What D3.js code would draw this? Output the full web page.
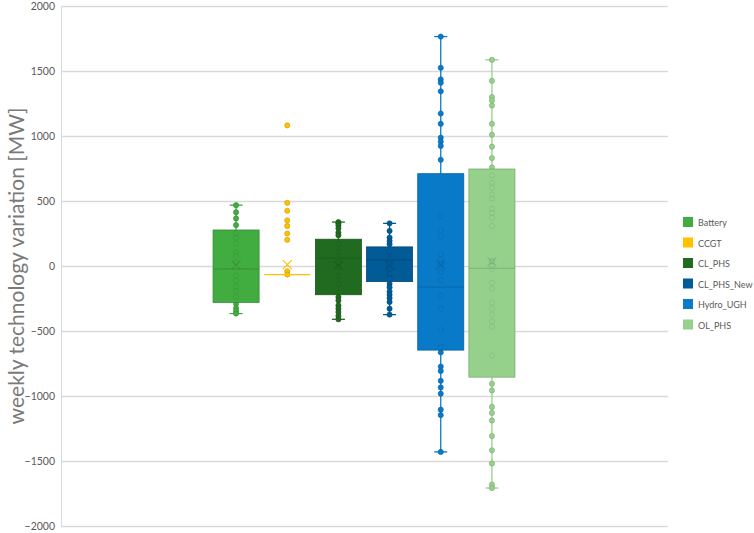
<!DOCTYPE html>
<html>
<head>
<meta charset="utf-8">
<script src="https://cdn.jsdelivr.net/npm/d3@7"></script>
<style>
    body { margin: 0; background: #fff; }
    text { font-family: Lato, "Open Sans", sans-serif; }
</style>
</head>
<body>
<div id="chart"></div>
<script>
// series (one box each)
var series = ["Battery", "CCGT", "CL_PHS", "CL_PHS_New", "Hydro_UGH", "OL_PHS"];
var colors = ["#41ad41", "#ffc000", "#216b21", "#005b97", "#087ac8", "#96d18c"];

// box statistics
var whiskerLow  = [-366, -66, -410, -374, -1430, -1708];
var q1          = [-280, -66, -221, -120, -647, -855];
var median      = [-23, -66, 61, 48, -163, -18];
var q3          = [277, -66, 206, 147, 710, 746];
var whiskerHigh = [468, -66, 338, 328, 1765, 1586];
var means       = [8, 10, 2, 8, 8, 33];

// weekly points per technology
var ptsBattery = [468, 414, 366, 315, 250, 219, 173, 105, 79, 28, -74, -112, -158, -193, -239, -290, -323, -346, -366];
var ptsCCGT = [1082, 486, 425, 351, 308, 250, 201, -41, -66];
var ptsCLPHS = [338, 328, 313, 290, 257, 237, 168, 105, 28, -10, -74, -137, -239, -265, -303, -328, -354, -384, -410];
var ptsCLPHSNew = [328, 270, 219, 193, 168, 105, 53, 15, -23, -61, -94, -137, -163, -196, -221, -247, -277, -328, -374];
var ptsHydro = [1765, 1525, 1435, 1410, 1344, 1173, 1094, 987, 957, 924, 817, 384, 277, 227, 92, 53, 15,
    -48, -112, -227, -328, -494, -621, -664, -774, -807, -883, -934, -982, -1105, -1147, -1430];
var ptsOLPHS = [1586, 1425, 1300, 1275, 1234, 1094, 1010, 918, 830, 758, 697, 639, 601, 550, 519, 440, 410, 372, 308,
    40, 2, 33, -23, -130, -176, -282, -328, -374, -425, -468, -689, -906, -957, -1084, -1130, -1188, -1308, -1418, -1519, -1682, -1708];
var points = [ptsBattery, ptsCCGT, ptsCLPHS, ptsCLPHSNew, ptsHydro, ptsOLPHS];

var yTicks = [-2000, -1500, -1000, -500, 0, 500, 1000, 1500, 2000];

var width = 754, height = 533;
var margin = { top: 6, right: 86, bottom: 6, left: 61 };

var svg = d3.select("#chart")
    .append("svg")
    .attr("width", width)
    .attr("height", height);

var y = d3.scaleLinear()
    .domain([-2000, 2000])
    .range([height - margin.bottom - 1, margin.top]);

var plotRight = width - margin.right;
var mid = (margin.left + plotRight) / 2;

var x = d3.scaleBand()
    .domain(series)
    .range([mid - 154, mid + 153])
    .paddingInner(0.1)
    .paddingOuter(0.05);

// gridlines
svg.append("g")
    .selectAll("line")
    .data(yTicks)
    .enter()
    .append("line")
    .attr("x1", margin.left)
    .attr("x2", plotRight)
    .attr("y1", function (d) { return Math.round(y(d)) + 0.5; })
    .attr("y2", function (d) { return Math.round(y(d)) + 0.5; })
    .attr("stroke", "#d9d9d9")
    .attr("stroke-width", 1.3);

// left axis line
svg.append("line")
    .attr("x1", margin.left + 0.5)
    .attr("x2", margin.left + 0.5)
    .attr("y1", y(2000))
    .attr("y2", y(-2000))
    .attr("stroke", "#d9d9d9");

var yAxis = svg.append("g")
    .attr("transform", "translate(" + (margin.left - 6) + ",0)")
    .call(d3.axisLeft(y).tickValues(yTicks).tickSize(0).tickPadding(0).tickFormat(d3.format("d")));
yAxis.select(".domain").remove();
yAxis.selectAll("text")
    .attr("fill", "#595959")
    .attr("font-size", "10.5px")
    .attr("font-family", "Lato, sans-serif");

svg.append("text")
    .attr("transform", "translate(24," + y(0) + ") rotate(-90)")
    .attr("text-anchor", "middle")
    .attr("fill", "#7a7a7a")
    .attr("font-size", "21px")
    .text("weekly technology variation [MW]");

var capW = 13;

series.forEach(function (name, i) {
    var g = svg.append("g").attr("class", "box");
    var cx = x(name) + x.bandwidth() / 2;
    var col = colors[i];
    var dark = d3.color(col).darker(0.6).formatHex();
    var x0 = x(name), bw = x.bandwidth();
    var flat = q3[i] === q1[i];

    // whisker line + caps
    if (!flat) {
        g.append("line")
            .attr("x1", cx).attr("x2", cx)
            .attr("y1", y(whiskerHigh[i])).attr("y2", y(whiskerLow[i]))
            .attr("stroke", col).attr("stroke-width", 1.3);
        [whiskerHigh[i], whiskerLow[i]].forEach(function (v) {
            g.append("line")
                .attr("x1", cx - capW / 2).attr("x2", cx + capW / 2)
                .attr("y1", y(v)).attr("y2", y(v))
                .attr("stroke", col).attr("stroke-width", 1.3);
        });
    }

    // outside points
    g.selectAll("circle.out")
        .data(points[i].filter(function (v) { return v > q3[i] || v < q1[i] || flat; }))
        .enter()
        .append("circle")
        .attr("class", "out")
        .attr("cx", cx)
        .attr("cy", function (v) { return y(v); })
        .attr("r", 2.6)
        .attr("fill", col)
        .attr("stroke", dark)
        .attr("stroke-width", 0.6);

    // box
    if (!flat) {
        g.append("rect")
            .attr("x", x0)
            .attr("y", y(q3[i]))
            .attr("width", bw)
            .attr("height", y(q1[i]) - y(q3[i]))
            .attr("fill", col)
            .attr("stroke", dark)
            .attr("stroke-width", 0.8);
    }

    // inner points, seen through the box
    g.selectAll("circle.in")
        .data(points[i].filter(function (v) { return v <= q3[i] && v >= q1[i] && !flat; }))
        .enter()
        .append("circle")
        .attr("class", "in")
        .attr("cx", cx)
        .attr("cy", function (v) { return y(v); })
        .attr("r", 2.6)
        .attr("fill", "none")
        .attr("stroke", dark)
        .attr("stroke-opacity", 0.35)
        .attr("stroke-width", 1);

    // median
    g.append("line")
        .attr("x1", x0).attr("x2", x0 + bw)
        .attr("y1", y(median[i])).attr("y2", y(median[i]))
        .attr("stroke", flat ? col : dark)
        .attr("stroke-opacity", flat ? 1 : 0.6)
        .attr("stroke-width", 1.3);

    // mean marker
    var my = y(means[i]), s = 4.5;
    g.append("path")
        .attr("d", "M" + (cx - s) + "," + (my - s) + "L" + (cx + s) + "," + (my + s) +
            "M" + (cx - s) + "," + (my + s) + "L" + (cx + s) + "," + (my - s))
        .attr("stroke", flat ? col : dark)
        .attr("stroke-opacity", flat ? 1 : 0.5)
        .attr("stroke-width", 1.2)
        .attr("fill", "none");
});

// legend
var legend = svg.append("g")
    .attr("transform", "translate(683,217)");

var item = legend.selectAll("g")
    .data(series)
    .enter()
    .append("g")
    .attr("transform", function (d, i) { return "translate(0," + (i * 20.5) + ")"; });

item.append("rect")
    .attr("width", 10)
    .attr("height", 10)
    .attr("fill", function (d, i) { return colors[i]; });

item.append("text")
    .attr("x", 15)
    .attr("y", 9)
    .attr("fill", "#595959")
    .attr("font-size", "9px")
    .text(function (d) { return d; });
</script>
</body>
</html>
